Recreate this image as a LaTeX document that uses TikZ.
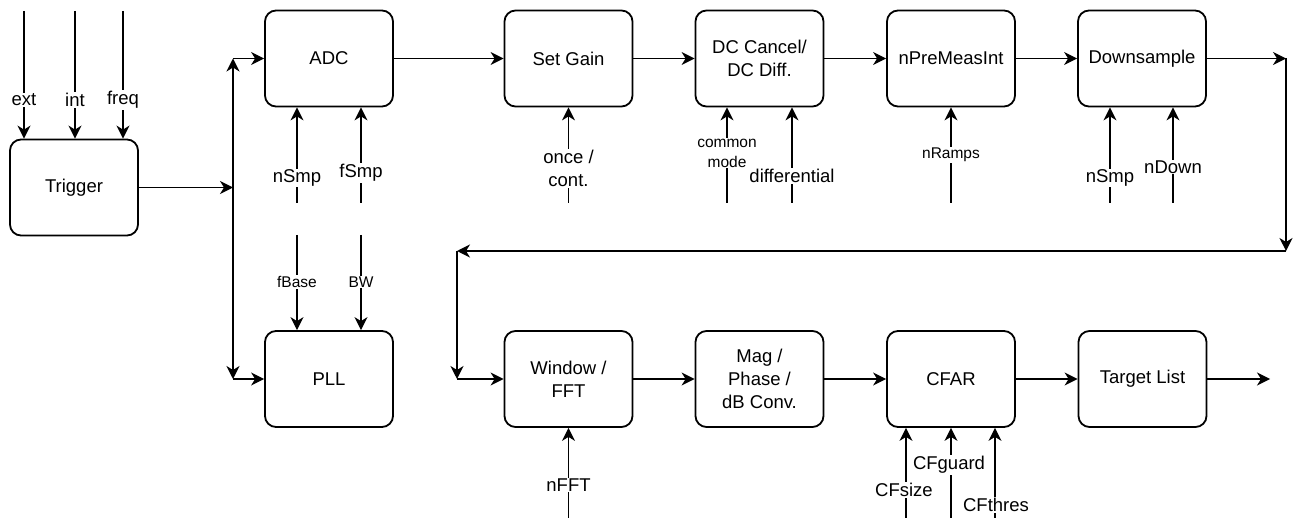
\documentclass[tikz,border=0pt]{standalone}
\usepackage{fontspec}
\setmainfont{Liberation Sans}
\usetikzlibrary{arrows.meta}
\begin{document}
\begin{tikzpicture}[x=1pt,y=-1pt,
  blk/.style={draw, line width=1.8pt, rounded corners=11pt, minimum width=128pt, minimum height=96pt, inner sep=0pt, align=center, font=\fontsize{18.5}{23}\selectfont},
  arr/.style={line width=1.4pt, -{Stealth[length=13pt,width=13pt,inset=4pt]}},
  lbl/.style={fill=white, inner sep=1pt, align=center, font=\fontsize{18.5}{23}\selectfont},
  slbl/.style={fill=white, inner sep=1pt, align=center, font=\fontsize{15.5}{20}\selectfont}]
\useasboundingbox (0,0) rectangle (1301,518);

% blocks
\node[blk] (trig) at (74,187.5) {Trigger};
\node[blk] (adc) at (329,58.5) {ADC};
\node[blk] (pll) at (329,379) {PLL};
\node[blk] (gain) at (568.5,58.5) {Set Gain};
\node[blk] (dc) at (759.5,58.5) {DC Cancel/\\DC Diff.};
\node[blk] (npre) at (951,58.5) {nPreMeasInt};
\node[blk] (down) at (1142,58.5) {Downsample};
\node[blk] (win) at (568.5,379) {Window /\\FFT};
\node[blk] (mag) at (759.5,379) {Mag /\\Phase /\\dB Conv.};
\node[blk] (cfar) at (951,379) {CFAR};
\node[blk] (tl) at (1142.5,379) {Target List};

% junction coordinates
\coordinate (j1) at (233,187.5);
\coordinate (jt) at (233,58.5);
\coordinate (jb) at (233,379);
\coordinate (r1) at (1286,58.5);
\coordinate (r2) at (1286,251);
\coordinate (l1) at (457,251);
\coordinate (l2) at (457,379);
\coordinate (out) at (1270,379);

% main flow
\draw[arr] (trig.east) -- (j1);
\draw[arr] (j1) -- (jt);
\draw[arr] (jt) -- (adc.west);
\draw[arr] (j1) -- (jb);
\draw[arr] (jb) -- (pll.west);
\draw[arr] (adc) -- (gain);
\draw[arr] (gain) -- (dc);
\draw[arr] (dc) -- (npre);
\draw[arr] (npre) -- (down);
\draw[arr] (down.east) -- (r1);
\draw[arr] (r1) -- (r2);
\draw[arr] (r2) -- (l1);
\draw[arr] (l1) -- (l2);
\draw[arr] (l2) -- (win.west);
\draw[arr] (win) -- (mag);
\draw[arr] (mag) -- (cfar);
\draw[arr] (cfar) -- (tl);
\draw[arr] (tl.east) -- (out);

% trigger inputs
\coordinate (tin1) at (24,11);
\coordinate (tin2) at (75,11);
\coordinate (tin3) at (123,11);
\draw[arr] (tin1) -- (tin1 |- trig.north);
\draw[arr] (tin2) -- (tin2 |- trig.north);
\draw[arr] (tin3) -- (tin3 |- trig.north);
\node[lbl] (lext) at (24,100) {ext};
\node[lbl] (lint) at (75,100) {int};
\node[lbl] (lfreq) at (123,100) {freq};

% ADC inputs
\coordinate (a1) at (297,203);
\coordinate (a2) at (361,203);
\draw[arr] (a1) -- (a1 |- adc.south);
\draw[arr] (a2) -- (a2 |- adc.south);
\node[lbl] (lnsmp) at (297,178) {nSmp};
\node[lbl] (lfsmp) at (361,173) {fSmp};

% PLL inputs
\coordinate (p1) at (297,235);
\coordinate (p2) at (361,235);
\draw[arr] (p1) -- (p1 |- pll.north);
\draw[arr] (p2) -- (p2 |- pll.north);
\node[slbl] (lfbase) at (297,282) {fBase};
\node[slbl] (lbw) at (361,282) {BW};

% Set Gain input
\coordinate (g1) at (568.5,203);
\draw[arr] (g1) -- (g1 |- gain.south);
\node[lbl] (lonce) at (568.5,168.5) {once /\\cont.};

% DC inputs
\coordinate (d1) at (727,203);
\coordinate (d2) at (792,203);
\draw[arr] (d1) -- (d1 |- dc.south);
\draw[arr] (d2) -- (d2 |- dc.south);
\node[slbl] (lcm) at (727,153) {common\\mode};
\node[lbl] (ldiff) at (792,176) {differential};

% nPreMeasInt input
\coordinate (n1) at (951,203);
\draw[arr] (n1) -- (n1 |- npre.south);
\node[slbl] (lnramps) at (951,155) {nRamps};

% Downsample inputs
\coordinate (s1) at (1110,203);
\coordinate (s2) at (1173,203);
\draw[arr] (s1) -- (s1 |- down.south);
\draw[arr] (s2) -- (s2 |- down.south);
\node[lbl] (lnsmp2) at (1110,178) {nSmp};
\node[lbl] (lndown) at (1173,167) {nDown};

% Window input
\coordinate (w1) at (568.5,518);
\draw[arr] (w1) -- (w1 |- win.south);
\node[lbl] (lnfft) at (568.5,485) {nFFT};

% CFAR inputs
\coordinate (c1) at (906,518);
\coordinate (c2) at (951,518);
\coordinate (c3) at (995,518);
\draw[arr] (c1) -- (c1 |- cfar.south);
\draw[arr] (c2) -- (c2 |- cfar.south);
\draw[arr] (c3) -- (c3 |- cfar.south);
\node[lbl] (lcfsize) at (904,490) {CFsize};
\node[lbl] (lcfguard) at (949,465) {CFguard};
\node[lbl] (lcfthres) at (996,505) {CFthres};
\end{tikzpicture}
\end{document}
